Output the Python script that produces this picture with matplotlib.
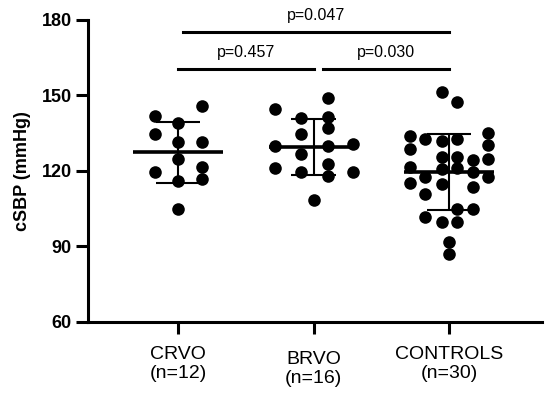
import matplotlib
matplotlib.use("Agg")
import matplotlib.pyplot as plt
import numpy as np

plt.rcParams['font.family'] = ['Liberation Sans', 'DejaVu Sans']

# group labels
groups = ["CRVO\n(n=12)", "BRVO\n(n=16)", "CONTROLS\n(n=30)"]

# cSBP values (mmHg)
crvo = [145.8, 141.9, 138.9, 134.8, 131.7, 131.7, 124.8, 121.7, 119.7, 116.0, 116.7, 104.8]
brvo = [148.9, 144.6, 140.9, 141.6, 134.6, 137.0, 129.9, 129.9, 130.6, 126.6,
        121.1, 119.5, 122.8, 118.1, 119.5, 108.5]
controls = [151.5, 147.5, 133.9, 132.6, 131.9, 132.6, 135.0, 128.6, 130.3, 125.4,
            125.4, 124.4, 124.7, 121.7, 120.8, 121.1, 119.7, 115.4, 117.7, 117.7,
            114.8, 113.8, 110.9, 104.8, 104.8, 101.9, 99.9, 99.9, 91.9, 86.9]

# horizontal scatter offsets (layout only)
crvo_dx = [0.18, -0.17, 0, -0.17, 0, 0.18, 0, 0.18, -0.17, 0, 0.18, 0]
brvo_dx = [0.105, -0.285, -0.09, 0.105, -0.09, 0.105, -0.285, 0.105, 0.29, -0.09,
           -0.285, -0.09, 0.105, 0.105, 0.29, 0]
controls_dx = [-0.055, 0.06, -0.29, -0.175, -0.055, 0.06, 0.29, -0.29, 0.29, -0.055,
               0.06, 0.175, 0.29, -0.29, -0.055, 0.06, 0.175, -0.29, -0.175, 0.29,
               -0.055, 0.175, -0.175, 0.06, 0.175, -0.175, -0.055, 0.06, 0, 0]

# p-value brackets: (x1, x2, y, text)
brackets = [(0.04, 2.0, 175.2, "p=0.047"),
            (0.0, 1.0, 160.5, "p=0.457"),
            (1.07, 2.0, 160.5, "p=0.030")]

data = [crvo, brvo, controls]
offsets = [crvo_dx, brvo_dx, controls_dx]

fig = plt.figure(figsize=(5.5, 3.99), dpi=100)
ax = fig.add_axes([0.16, 0.193, 0.8255, 0.757])

for i, (vals, dx) in enumerate(zip(data, offsets)):
    vals = np.array(vals)
    ax.scatter(i + np.array(dx), vals, s=82, color='black', zorder=2, linewidths=0)
    m = vals.mean()
    sd = vals.std(ddof=1)
    ax.hlines(m, i - 0.33, i + 0.33, color='black', lw=2.6, zorder=3)
    ax.vlines(i, m - sd, m + sd, color='black', lw=1.5, zorder=3)
    ax.hlines([m - sd, m + sd], i - 0.165, i + 0.165, color='black', lw=1.5, zorder=3)

for x1, x2, y, txt in brackets:
    ax.plot([x1, x2], [y, y], color='black', lw=2.2, clip_on=False)
    ax.text((x1 + x2) / 2, y + 3.6, txt, ha='center', va='bottom', fontsize=11.5,
            clip_on=False)

ax.set_xlim(-0.664, 2.686)
ax.set_ylim(60, 180)
ax.set_yticks([60, 90, 120, 150, 180])
ax.set_xticks([0, 1, 2])
ax.set_xticklabels(groups, fontsize=14, linespacing=1.15)
for lab in ax.get_yticklabels():
    lab.set_fontweight('bold')
    lab.set_fontsize(13)
ax.set_ylabel("cSBP (mmHg)", fontsize=13, fontweight='bold', labelpad=8)

for side in ['top', 'right']:
    ax.spines[side].set_visible(False)
for side in ['left', 'bottom']:
    ax.spines[side].set_linewidth(2.2)
ax.tick_params(width=2.2, length=8.6)
ax.tick_params(axis='y', pad=3)
ax.tick_params(axis='x', pad=9)
# BRVO label sits a little lower in the original
ax.xaxis.get_major_ticks()[1].set_pad(12)

fig.savefig("out.png", dpi=100)
